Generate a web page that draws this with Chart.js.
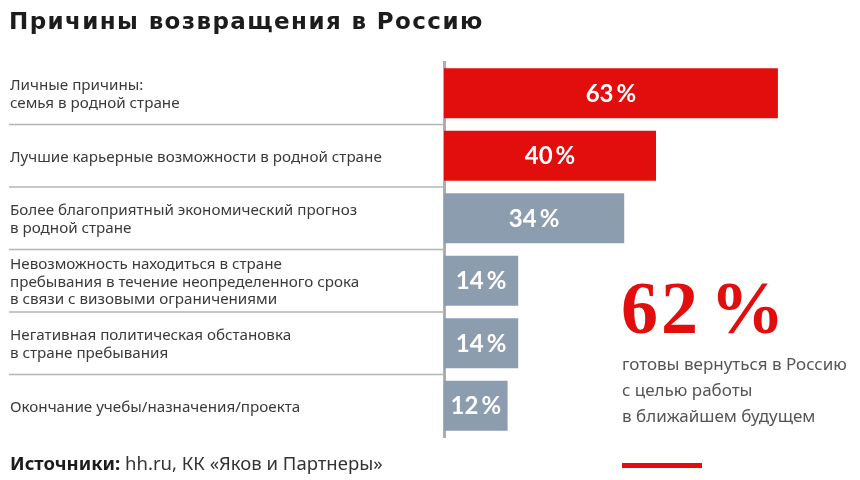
<!DOCTYPE html>
<html>
<head>
<meta charset="utf-8">
<script src="https://cdn.jsdelivr.net/npm/chart.js@4/dist/chart.umd.min.js"></script>
<style>
  html, body { margin: 0; padding: 0; background: #fff; }
  #chart { display: block; }
</style>
</head>
<body>
<canvas id="chart" width="860" height="480"></canvas>
<script>
const title = 'Причины возвращения в Россию';
const categories = [
  ['Личные причины:', 'семья в родной стране'],
  ['Лучшие карьерные возможности в родной стране'],
  ['Более благоприятный экономический прогноз', 'в родной стране'],
  ['Невозможность находиться в стране', 'пребывания в течение неопределенного срока', 'в связи с визовыми ограничениями'],
  ['Негативная политическая обстановка', 'в стране пребывания'],
  ['Окончание учебы/назначения/проекта']
];
const values = [63, 40, 34, 14, 14, 12];
const highlightCount = 2;
const bigValue = 62;
const bigText = ['готовы вернуться в Россию', 'с целью работы', 'в ближайшем будущем'];
const sourceLabel = 'Источники:';
const sourceText = ' hh.ru, КК «Яков и Партнеры»';

const RED = '#e20e0e';
const GRAY = '#8c9db0';
const LABEL_FONT = '"Noto Sans", sans-serif';

const decorations = {
  id: 'decorations',
  beforeDatasetsDraw(chart) {
    const ctx = chart.ctx;
    const y = chart.scales.y;
    const left = chart.chartArea.left;
    ctx.save();
    // separators between rows
    ctx.strokeStyle = '#b5b5b5';
    ctx.lineWidth = 1.5;
    for (let i = 0; i < categories.length - 1; i++) {
      const yy = (y.getPixelForValue(i) + y.getPixelForValue(i + 1)) / 2;
      ctx.beginPath();
      ctx.moveTo(9, yy);
      ctx.lineTo(left, yy);
      ctx.stroke();
    }
    // row labels
    ctx.fillStyle = '#3a3a3a';
    ctx.font = '15.2px ' + LABEL_FONT;
    ctx.textBaseline = 'middle';
    ctx.textAlign = 'left';
    categories.forEach((lines, i) => {
      const cy = y.getPixelForValue(i) + 1.5;
      const lh = 17.5;
      lines.forEach((line, j) => {
        ctx.fillText(line, 10, cy + (j - (lines.length - 1) / 2) * lh);
      });
    });
    ctx.restore();
  },
  afterDatasetsDraw(chart) {
    const ctx = chart.ctx;
    const meta = chart.getDatasetMeta(0);
    ctx.save();
    // value labels inside bars
    ctx.fillStyle = '#fff';
    ctx.font = 'bold 24px Lato, sans-serif';
    ctx.textAlign = 'center';
    ctx.textBaseline = 'middle';
    meta.data.forEach((bar, i) => {
      const cx = (bar.base + bar.x) / 2;
      ctx.fillText(values[i] + '\u2009%', cx, bar.y + 1);
    });

    // title
    ctx.fillStyle = '#1c1c1c';
    ctx.textAlign = 'left';
    ctx.textBaseline = 'alphabetic';
    ctx.font = 'bold 23px "DejaVu Sans", sans-serif';
    ctx.letterSpacing = '1.4px';
    ctx.fillText(title, 9, 29);

    // big highlight number
    ctx.fillStyle = RED;
    ctx.font = 'bold 74px "Liberation Serif", serif';
    ctx.letterSpacing = '3px';
    ctx.fillText(bigValue + '\u200a%', 621, 333);
    ctx.letterSpacing = '0px';

    ctx.fillStyle = '#555';
    ctx.font = '17px ' + LABEL_FONT;
    bigText.forEach((line, i) => {
      ctx.fillText(line, 622, 370 + i * 26);
    });

    // sources
    ctx.fillStyle = '#1c1c1c';
    ctx.font = 'bold 18.5px ' + LABEL_FONT;
    ctx.fillText(sourceLabel, 10, 470);
    const w = ctx.measureText(sourceLabel).width;
    ctx.fillStyle = '#333';
    ctx.font = '18.5px ' + LABEL_FONT;
    ctx.fillText(sourceText, 10 + w, 470);

    // red accent line
    ctx.fillStyle = RED;
    ctx.fillRect(622, 463, 80, 5);
    ctx.restore();
  }
};

new Chart(document.getElementById('chart'), {
  type: 'bar',
  data: {
    labels: categories,
    datasets: [{
      data: values,
      backgroundColor: (c) => c.dataIndex < highlightCount ? RED : GRAY,
      borderWidth: 0,
      categoryPercentage: 1,
      barPercentage: 0.8
    }]
  },
  options: {
    indexAxis: 'y',
    responsive: false,
    animation: false,
    layout: { padding: { top: 62, bottom: 43, left: 0, right: 45 } },
    plugins: {
      legend: { display: false },
      tooltip: { enabled: false }
    },
    scales: {
      x: { display: false, min: 0, max: 70 },
      y: {
        ticks: { display: false },
        grid: { display: false },
        border: { color: '#adadad', width: 3 },
        afterFit: (scale) => { scale.width = 444; }
      }
    }
  },
  plugins: [decorations]
});
</script>
</body>
</html>
